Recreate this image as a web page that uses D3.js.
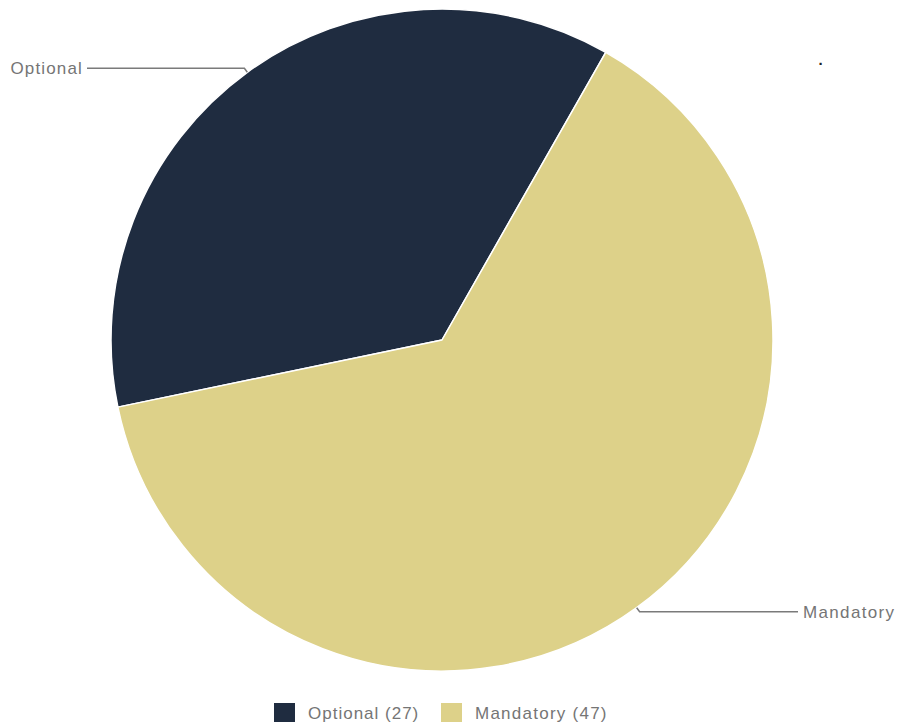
<!DOCTYPE html>
<html>
<head>
<meta charset="utf-8">
<script src="https://cdn.jsdelivr.net/npm/d3@7"></script>
<style>
  html, body { margin: 0; padding: 0; background: #fff; }
  svg { display: block; }
  text { font-family: "Liberation Sans", Arial, sans-serif; }
</style>
</head>
<body>
<svg id="chart" width="900" height="727"></svg>
<script>
const categories = ["Optional", "Mandatory"];
const values = [27, 47];
const colors = ["#1f2c40", "#ddd189"];
const title = ".";

const W = 900, H = 727;
const cx = 442, cy = 340, R = 331;
const startDeg = 258.3;

const svg = d3.select("#chart");

const pie = d3.pie().sort(null).value(d => d.value)
  .startAngle(startDeg * Math.PI / 180)
  .endAngle(startDeg * Math.PI / 180 + 2 * Math.PI);

const data = categories.map((c, i) => ({ name: c, value: values[i], color: colors[i] }));
const arcs = pie(data);
const arc = d3.arc().innerRadius(0).outerRadius(R);

const g = svg.append("g").attr("transform", `translate(${cx},${cy})`);
g.selectAll("path.slice").data(arcs).enter().append("path")
  .attr("class", "slice")
  .attr("d", arc)
  .attr("fill", d => d.data.color)
  .attr("stroke", "#fff")
  .attr("stroke-width", 1.5)
  .attr("stroke-linejoin", "round");

// labels with leader lines
const labelX = { Optional: 87 - cx, Mandatory: 798 - cx };
arcs.forEach(a => {
  const mid = (a.startAngle + a.endAngle) / 2;
  const sx = Math.sin(mid), sy = -Math.cos(mid);
  const p0 = [sx * R, sy * R];
  const p1 = [sx * (R + 5), sy * (R + 5)];
  const right = sx > 0;
  const p2 = [labelX[a.data.name], p1[1]];
  g.append("polyline")
    .attr("points", [p0, p1, p2].map(p => p.join(",")).join(" "))
    .attr("fill", "none")
    .attr("stroke", "#7a7a7a")
    .attr("stroke-width", 1.5);
  g.append("text")
    .attr("x", p2[0] + (right ? 5 : -4))
    .attr("y", p2[1])
    .attr("dy", "0.35em")
    .attr("text-anchor", right ? "start" : "end")
    .attr("font-size", 17)
    .attr("letter-spacing", right ? 1.35 : 1.15)
    .attr("fill", "#757575")
    .text(a.data.name);
});

// small title dot
svg.append("text")
  .attr("x", 818.5).attr("y", 65)
  .attr("font-size", 15)
  .attr("font-weight", "bold")
  .attr("fill", "#222")
  .text(title);

// legend
const legendX = [274, 441];
const legend = svg.append("g");
data.forEach((d, i) => {
  legend.append("rect")
    .attr("x", legendX[i]).attr("y", 703)
    .attr("width", 21).attr("height", 19)
    .attr("fill", d.color);
  legend.append("text")
    .attr("x", legendX[i] + 34).attr("y", 713)
    .attr("dy", "0.35em")
    .attr("font-size", 17)
    .attr("letter-spacing", i === 0 ? 1.0 : 1.25)
    .attr("fill", "#757575")
    .text(`${d.name} (${d.value})`);
});
</script>
</body>
</html>
